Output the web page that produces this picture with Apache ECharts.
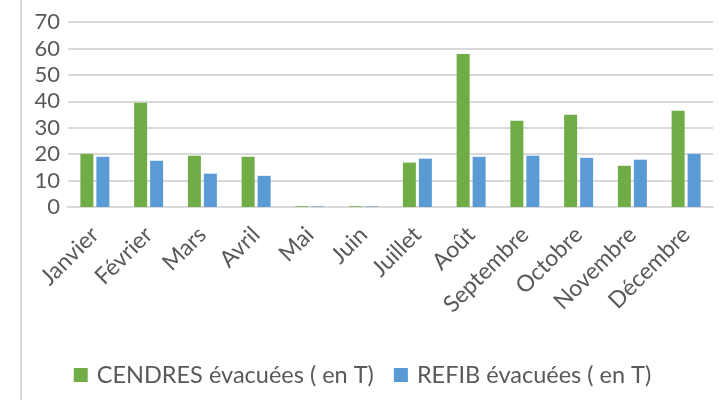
<!DOCTYPE html>
<html>
<head>
<meta charset="utf-8">
<script src="https://cdn.jsdelivr.net/npm/echarts@6/dist/echarts.min.js"></script>
<style>html,body{margin:0;padding:0;background:#fff;}#c{width:725px;height:400px;}</style>
</head>
<body>
<div id="c"></div>
<script>
const categories = ['Janvier','Février','Mars','Avril','Mai','Juin','Juillet','Août','Septembre','Octobre','Novembre','Décembre'];
const cendres = [20.1, 39.4, 19.4, 19.0, 0.25, 0.25, 16.8, 57.9, 32.6, 34.9, 15.6, 36.4];
const refib = [19.0, 17.5, 12.6, 11.8, 0.2, 0.2, 18.3, 19.0, 19.4, 18.6, 17.9, 20.1];
const seriesNames = ['CENDRES évacuées ( en T)', 'REFIB évacuées ( en T)'];
const yTicks = {min: 0, max: 70, interval: 10};

const FONT = 'Lato, "Open Sans", sans-serif';
const chart = echarts.init(document.getElementById('c'), null, {renderer: 'canvas'});
chart.setOption({
  animation: false,
  textStyle: {fontFamily: FONT},
  graphic: [{
    type: 'line', shape: {x1: 21, y1: 0, x2: 21, y2: 400},
    style: {stroke: '#d9d9d9', lineWidth: 2}
  }],
  grid: {left: 68, right: 12, top: 22, bottom: 193, containLabel: false},
  legend: {
    bottom: 8, left: 'center', itemWidth: 14, itemHeight: 14, itemGap: 20,
    icon: 'rect',
    textStyle: {fontFamily: FONT, fontSize: 23.5, color: '#595959', padding: [0, 0, 0, 4]},
    data: seriesNames
  },
  xAxis: {
    type: 'category', data: categories,
    axisLine: {lineStyle: {color: '#d9d9d9', width: 2}},
    axisTick: {show: false},
    axisLabel: {rotate: 45, interval: 0, margin: 24, color: '#595959', fontFamily: FONT, fontSize: 23}
  },
  yAxis: {
    type: 'value', min: yTicks.min, max: yTicks.max, interval: yTicks.interval,
    axisLine: {show: false}, axisTick: {show: false},
    splitLine: {lineStyle: {color: '#d9d9d9', width: 2}},
    axisLabel: {margin: 8, color: '#595959', fontFamily: FONT, fontSize: 22}
  },
  series: [
    {name: seriesNames[0], type: 'bar', data: cendres, barWidth: 13, barGap: '23%', itemStyle: {color: '#70ad47'}},
    {name: seriesNames[1], type: 'bar', data: refib, barWidth: 13, barGap: '23%', itemStyle: {color: '#5b9bd5'}}
  ]
});
</script>
</body>
</html>
